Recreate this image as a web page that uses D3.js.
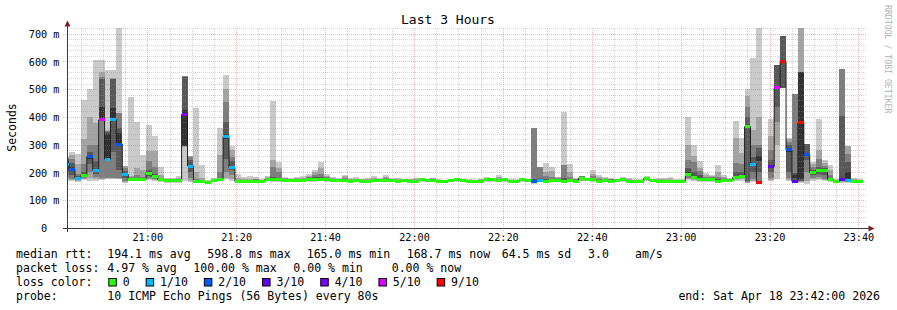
<!DOCTYPE html>
<html lang="en">
<head>
<meta charset="UTF-8">
<title>Last 3 Hours</title>
<script src="https://cdn.jsdelivr.net/npm/d3@7"></script>
<style>
    body{ margin:0; background:#fff; }
    svg text{ font-family:"DejaVu Sans Mono", monospace; }
    .grid path{ display:none; }
    .minor line{ stroke:rgba(143,143,143,0.38); stroke-dasharray:1,1; shape-rendering:crispEdges; }
    .major line{ stroke:rgba(222,80,80,0.42); stroke-dasharray:1,1; shape-rendering:crispEdges; }
    .labels path, .labels line{ display:none; }
</style>
</head>
<body>
<svg id="main" width="897" height="310"></svg>
<script>
    // time frame: 80 s steps, 3 hour window
    const stepStart = new Date(2026, 3, 18, 20, 41, 3)
    const stepSeconds = 80
    const viewStart = new Date(2026, 3, 18, 20, 42, 0)
    const viewEnd = new Date(2026, 3, 18, 23, 42, 0)

    // median rtt per step (ms), null = no answer
    const medians = [
        230,212,180,190,257,208,389,248,389,302,
        193,173,175,175,197,185,173,172,170,170,
        409,223,167,167,165,170,175,330,217,167,
        167,168,169,167,175,173,174,172,170,172,
        171,174,175,176,173,172,170,171,169,170,
        168,169,171,170,172,170,169,172,169,168,
        173,172,170,169,167,172,173,172,169,167,
        169,173,173,172,173,169,168,173,170,167,
        172,169,172,171,169,171,169,180,175,173,
        169,171,169,172,173,168,169,169,179,171,
        169,167,167,167,168,191,182,175,175,176,
        169,170,170,182,185,365,230,165,null,221,
        505,598.8,281,167,379,264,199,206,206,175,
        167,173,170,169,168.7,null
    ]

    // lost pings out of 10 per step
    const lostPings = [
        1,2,1,0,2,1,5,1,1,2,
        1,0,0,0,0,0,0,0,0,0,
        4,1,0,0,0,0,0,1,1,0,
        0,0,0,0,0,0,0,0,0,0,
        0,0,0,0,0,0,0,0,0,0,
        0,0,0,0,0,0,0,0,0,0,
        0,0,0,0,0,0,0,0,0,0,
        0,0,0,0,0,0,0,0,0,2,
        1,0,0,0,0,0,0,0,0,0,
        0,0,0,0,0,0,0,0,0,0,
        0,0,0,0,0,0,0,0,0,0,
        0,0,0,0,0,0,1,9,10,3,
        5,9,2,3,9,2,0,0,0,0,
        0,3,1,0,0,null
    ]

    // sorted ping times per step (ms), the smoke
    const pings = [
        [170,175,185,200,220,240,248,252,256,260],
        [168,172,178,190,205,218,235,250,262,275],
        [165,168,172,176,179,182,186,195,230,265],
        [172,176,180,185,188,192,200,230,320,461],
        [170,180,200,230,250,262,272,300,400,500],
        [168,175,185,195,205,212,240,300,378,605],
        [172,176,180,385,389,435,535,545,560,605],
        [178,179,180,248,250,340,345,350,353,569],
        [178,179,180,275,389,431,535,538,540,569],
        [175,178,180,209,300,341,359,413,415,720],
        [162,165,170,180,190,195,205,215,222,225],
        [168,170,171,172,173,175,178,182,187,470],
        [168,170,172,174,175,176,178,190,215,383],
        [168,170,172,174,175,176,178,185,210,263],
        [172,176,180,186,195,200,210,240,278,371],
        [168,172,176,180,184,187,195,220,278,331],
        [165,168,170,172,173,174,176,180,190,221],
        [163,165,167,169,171,173,174,176,178,181],
        [162,164,166,168,170,171,172,174,176,180],
        [162,164,166,168,170,171,173,176,180,187],
        [170,293,294,295,296,425,545,546,547,548],
        [165,170,180,200,220,226,245,257,258,260],
        [162,164,165,166,167,168,170,175,200,433],
        [162,164,165,166,167,168,170,172,180,227],
        [160,162,163,164,165,166,167,168,170,172],
        [164,166,168,169,170,171,172,174,176,180],
        [168,170,172,174,175,177,180,200,263,361],
        [175,180,200,250,320,340,383,455,500,551],
        [170,178,190,210,215,220,240,257,280,295],
        [162,164,165,166,167,168,170,174,180,194],
        [162,164,165,166,167,168,170,172,176,185],
        [163,164,165,166,168,169,171,174,178,187],
        [163,164,166,167,169,170,172,175,178,182],
        [162,163,164,165,167,168,170,172,174,176],
        [168,170,171,173,175,176,178,180,182,186],
        [166,168,170,172,173,175,185,221,245,457],
        [166,168,170,172,174,176,180,200,215,238],
        [165,167,168,170,172,173,175,177,179,182],
        [164,166,167,169,170,171,173,175,177,179],
        [165,167,168,170,172,173,175,178,180,184],
        [164,166,168,170,171,172,174,177,180,186],
        [166,168,170,172,174,175,178,182,188,195],
        [167,169,171,173,175,177,182,190,200,208],
        [168,170,172,174,176,178,182,195,215,237],
        [166,168,170,172,173,175,178,182,188,196],
        [165,167,169,170,172,173,175,178,180,184],
        [164,166,167,169,170,171,173,175,178,181],
        [164,166,168,170,171,172,175,180,186,192],
        [163,165,166,168,169,170,172,174,177,180],
        [164,165,167,169,170,171,173,175,178,182],
        [162,164,165,167,168,169,171,173,175,178],
        [163,165,166,168,169,170,172,174,176,179],
        [165,166,168,170,171,172,174,177,181,186],
        [164,165,167,169,170,171,173,175,177,180],
        [165,167,169,171,172,173,176,180,185,191],
        [164,166,167,169,170,171,173,175,178,181],
        [163,165,166,168,169,170,172,174,176,179],
        [166,167,168,170,172,173,174,175,176,178],
        [163,165,166,168,169,170,172,174,176,178],
        [162,164,166,167,168,169,171,173,176,179],
        [166,168,169,171,173,174,175,176,177,178],
        [165,167,169,170,172,173,174,175,176,177],
        [164,166,167,169,170,172,175,178,179,180],
        [163,165,166,168,169,170,171,172,174,176],
        [162,163,164,166,167,168,169,170,172,174],
        [165,167,168,170,172,173,174,175,176,177],
        [166,168,169,171,173,174,175,176,177,178],
        [165,167,168,170,172,173,174,175,176,177],
        [163,165,166,168,169,170,171,172,173,175],
        [162,163,164,166,167,168,169,170,171,173],
        [163,165,166,168,169,170,172,174,176,178],
        [166,168,169,171,173,174,176,178,181,184],
        [166,168,169,171,173,174,175,176,177,178],
        [165,167,168,170,172,173,175,178,184,191],
        [166,168,169,171,173,174,176,178,179,180],
        [163,165,166,168,169,170,171,172,174,176],
        [162,164,165,167,168,169,170,171,173,175],
        [166,168,169,171,173,174,175,176,177,178],
        [164,166,167,169,170,171,172,173,174,175],
        [160,162,164,166,167,170,175,359,359,359],
        [165,167,168,170,171,173,180,221,221,221],
        [163,165,166,168,169,171,178,187,200,235],
        [165,166,168,170,172,174,178,185,204,221],
        [164,166,168,170,171,173,176,180,182,184],
        [163,165,167,169,170,172,180,227,227,419],
        [164,166,168,170,171,173,178,185,200,230],
        [163,165,166,168,169,171,173,176,178,180],
        [168,170,172,175,180,183,185,187,187,187],
        [168,170,171,173,175,176,177,178,179,180],
        [166,168,169,171,173,174,178,187,195,209],
        [163,165,166,168,169,170,172,175,182,191],
        [164,166,168,170,171,172,174,177,180,182],
        [163,165,166,168,169,170,172,175,178,181],
        [166,167,168,170,172,173,174,175,176,177],
        [166,168,169,171,173,174,176,178,180,182],
        [162,164,165,167,168,169,171,174,178,181],
        [163,165,166,168,169,170,171,172,174,176],
        [163,165,166,168,169,170,171,172,174,176],
        [170,172,174,176,178,180,182,184,185,186],
        [165,166,168,170,171,172,173,174,176,178],
        [163,165,166,168,169,170,172,174,176,179],
        [162,163,164,166,167,168,170,173,176,180],
        [162,163,164,166,167,168,170,174,178,182],
        [162,163,164,166,167,168,169,171,173,175],
        [162,164,165,167,168,169,170,172,174,176],
        [172,176,180,190,192,200,215,245,300,398],
        [170,172,176,180,182,185,200,239,260,299],
        [166,168,170,172,175,178,190,205,215,242],
        [166,168,170,172,175,177,180,185,190,197],
        [166,168,170,173,176,178,180,184,187,190],
        [163,165,166,168,169,171,175,185,200,227],
        [164,166,167,169,170,172,175,180,185,190],
        [164,166,167,169,170,171,173,175,177,180],
        [168,172,176,180,182,185,200,233,323,385],
        [170,175,180,183,185,188,200,230,269,323],
        [161,163,165,168,365,368,401,437,475,499],
        [165,168,175,200,228,232,257,300,353,613],
        [160,162,165,200,240,260,287,300,400,720],
        null,
        [170,174,180,200,218,224,245,280,330,392],
        [175,300,380,434,500,510,587,587,587,587],
        [503,503,503,503,598,600,691,691,691,691],
        [168,172,180,200,275,285,300,310,320,323],
        [162,164,166,172,180,190,197,482,482,482],
        [163,165,168,170,175,563,563,563,720,720],
        [160,170,200,245,262,266,302,302,302,302],
        [170,175,180,190,198,202,210,220,230,239],
        [172,176,182,195,204,208,220,250,280,391],
        [168,172,178,190,204,208,215,225,235,245],
        [165,168,170,172,174,176,180,190,210,227],
        [162,163,164,165,166,168,170,172,174,177],
        [163,166,170,175,176,180,403,572,572,572],
        [163,165,168,172,175,200,239,265,295,295],
        [163,164,165,166,167,169,171,173,175,179],
        [162,163,164,165,166,168,169,171,173,176],
        null
    ]

    const lossColors = ['#26ff00','#00b8ff','#0059ff','#5e00ff','#7e00ff','#dd00ff','#ff0000']
    const lossLabels = ['0','1/10','2/10','3/10','4/10','5/10','9/10']
    const lossFrom = [0,1,2,3,4,5,9]
    const smokeGrays = ['#cacaca','#a4a4a4','#7e7e7e','#585858','#323232']

    const yTicks = [0,100,200,300,400,500,600,700]
    const yTickLabels = ['0  ','100 m','200 m','300 m','400 m','500 m','600 m','700 m']

    const rttStats = ['194.1 ms avg','598.8 ms max','165.0 ms min','168.7 ms now','64.5 ms sd','3.0','am/s']
    const lossStats = ['4.97 % avg','100.00 % max','0.00 % min','0.00 % now']
    const probeText = '10 ICMP Echo Pings (56 Bytes) every 80s'
    const endText = 'end: Sat Apr 18 23:42:00 2026'

    const plot = {left: 67.3, right: 867.3, top: 28, bottom: 228}
    const svg = d3.select('svg#main')

    const x = d3.scaleTime().domain([viewStart, viewEnd]).range([plot.left, plot.right])
    const y = d3.scaleLinear().domain([0, 720]).range([plot.bottom, plot.top])

    const cols = pings.map((p, i) => ({
        x0: x(new Date(stepStart.getTime() + i * stepSeconds * 1000)),
        x1: x(new Date(stepStart.getTime() + (i + 1) * stepSeconds * 1000)),
        p: p, med: medians[i], lost: lostPings[i]
    }))

    svg.append('defs').append('clipPath').attr('id', 'plotClip')
        .append('rect')
        .attr('x', plot.left).attr('y', 0)
        .attr('width', plot.right - plot.left).attr('height', plot.bottom)

    // smoke layers, outer ping pair lightest
    const smoke = svg.append('g').attr('clip-path', 'url(#plotClip)')
    smokeGrays.forEach((col, i) => {
        smoke.append('g').selectAll('rect')
            .data(cols.filter(d => d.p))
            .join('rect')
            .attr('x', d => d.x0)
            .attr('width', d => d.x1 - d.x0)
            .attr('y', d => y(d.p[9 - i]))
            .attr('height', d => y(d.p[i]) - y(d.p[9 - i]))
            .attr('fill', col)
            .attr('shape-rendering', 'crispEdges')
    })

    // grid
    const h = plot.bottom - plot.top
    const w = plot.right - plot.left
    const minorTimes = x.ticks(d3.timeMinute.every(5)).filter(d => d.getMinutes() % 20 !== 0)
    const majorTimes = x.ticks(d3.timeMinute.every(20))

    svg.append('g').attr('class', 'grid minor')
        .attr('transform', `translate(0,${plot.bottom})`)
        .call(d3.axisBottom(x).tickValues(minorTimes).tickSize(-h).tickFormat(''))
    svg.append('g').attr('class', 'grid minor')
        .attr('transform', `translate(${plot.left},0)`)
        .call(d3.axisLeft(y).tickValues(d3.range(20, 721, 20).filter(v => v % 100 !== 0)).tickSize(-w).tickFormat(''))
    svg.append('g').attr('class', 'grid major')
        .attr('transform', `translate(0,${plot.bottom + 3})`)
        .call(d3.axisBottom(x).tickValues(majorTimes).tickSize(-(h + 3)).tickFormat(''))
    svg.append('g').attr('class', 'grid major')
        .attr('transform', `translate(${plot.left - 4},0)`)
        .call(d3.axisLeft(y).tickValues(yTicks.slice(1)).tickSize(-(w + 4)).tickFormat(''))

    // median line and loss colour
    const medPts = []
    cols.forEach(d => {
        if (d.med == null) { medPts.push(null); return }
        medPts.push([d.x0, y(d.med)], [d.x1, y(d.med)])
    })
    const medLine = d3.line().defined(d => d != null).x(d => d[0]).y(d => d[1])
    const medG = svg.append('g').attr('clip-path', 'url(#plotClip)')
    medG.append('path')
        .attr('d', medLine(medPts))
        .attr('fill', 'none')
        .attr('stroke', '#202020')
        .attr('stroke-width', 1)
    const lossBin = n => d3.bisectRight(lossFrom, n) - 1
    medG.selectAll('.lossbar')
        .data(cols.filter(d => d.med != null))
        .join('rect')
        .attr('class', 'lossbar')
        .attr('x', d => d.x0)
        .attr('width', d => d.x1 - d.x0)
        .attr('y', d => y(d.med) - 1.5)
        .attr('height', 3)
        .attr('fill', d => lossColors[lossBin(d.lost)])
        .attr('shape-rendering', 'crispEdges')

    // axes
    svg.append('line')
        .attr('x1', 63).attr('x2', 870).attr('y1', plot.bottom + 0.5).attr('y2', plot.bottom + 0.5)
        .attr('stroke', '#3a3a3a')
    svg.append('line')
        .attr('x1', 67.5).attr('x2', 67.5).attr('y1', 232).attr('y2', 24)
        .attr('stroke', '#3a3a3a')
    svg.append('path').attr('d', 'M64.5,26.5L70.5,26.5L67.5,20.5Z').attr('fill', '#801f1f')
    svg.append('path').attr('d', 'M868.5,225.5L868.5,231.5L874.5,228.5Z').attr('fill', '#801f1f')

    const xLab = svg.append('g').attr('class', 'labels')
        .attr('transform', `translate(0,${plot.bottom})`)
        .call(d3.axisBottom(x).tickValues(majorTimes).tickSize(0).tickFormat(d3.timeFormat('%H:%M')))
    xLab.selectAll('text')
        .attr('y', 13).attr('dy', 0)
        .attr('font-family', '"DejaVu Sans Mono", monospace')
        .attr('font-size', '10.2px').attr('fill', '#000')
    const yLab = svg.append('g').attr('class', 'labels')
        .attr('transform', `translate(59.5,0)`)
        .call(d3.axisLeft(y).tickValues(yTicks).tickSize(0).tickFormat((d, i) => yTickLabels[i]))
    yLab.selectAll('text')
        .attr('x', 0).attr('dy', '0.36em')
        .attr('xml:space', 'preserve')
        .style('white-space', 'pre')
        .attr('font-family', '"DejaVu Sans Mono", monospace')
        .attr('font-size', '10.2px').attr('fill', '#000')

    // titles
    svg.append('text').text('Last 3 Hours')
        .attr('x', 448).attr('y', 24).attr('text-anchor', 'middle')
        .attr('font-size', '13px').attr('fill', '#000')
    svg.append('text').text('Seconds')
        .attr('transform', 'translate(15.5,127.5) rotate(-90)')
        .attr('text-anchor', 'middle')
        .attr('font-size', '11.5px').attr('fill', '#000')
    svg.append('text').text('RRDTOOL / TOBI OETIKER')
        .attr('transform', 'translate(884.5,5) rotate(90)')
        .attr('font-size', '8.2px').attr('fill', '#b4b4b4')

    // legend
    const fs = '11.55px'
    const legend = svg.append('g').attr('font-size', fs).attr('fill', '#000')
    const row = (txt, xx, yy) => legend.append('text').text(txt).attr('x', xx).attr('y', yy)

    row('median rtt:', 16, 258)
    const rttX = [107.3, 207.3, 306.7, 406.7, 501.7, 588, 635]
    rttStats.forEach((t, i) => row(t, rttX[i], 258))

    row('packet loss:', 16, 272)
    const lossX = [107.3, 193.3, 293.3, 391.7]
    lossStats.forEach((t, i) => row(t, lossX[i], 272))

    row('loss color:', 16, 286)
    let lx = 108.3
    lossLabels.forEach((t, i) => {
        legend.append('rect')
            .attr('x', lx + 0.5).attr('y', 278.5)
            .attr('width', 7.5).attr('height', 7.5)
            .attr('fill', lossColors[i]).attr('stroke', '#000').attr('stroke-width', 1)
        row(t, lx + 14.4, 286)
        lx = lx + 14.4 + t.length * 6.95 + 16
    })

    row('probe:', 16, 300)
    row(probeText, 107.3, 300)
    row(endText, 880, 300).attr('text-anchor', 'end')
</script>
</body>
</html>
